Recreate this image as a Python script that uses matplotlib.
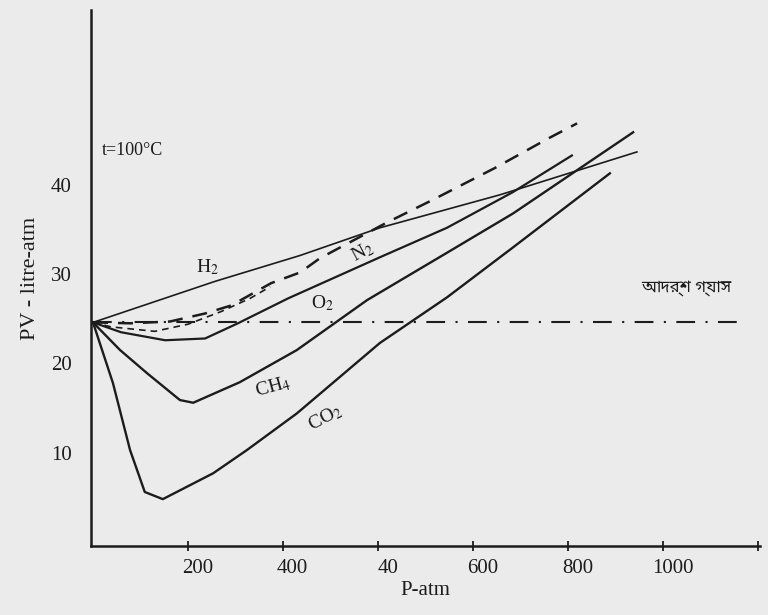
import matplotlib
matplotlib.use("Agg")
import matplotlib.pyplot as plt
from matplotlib.transforms import ScaledTranslation

# --- data (P in atm, PV in litre-atm) ---
ideal_p = [0, 1358]
ideal_pv = [24.6, 24.6]

h2_p = [0, 257, 436, 604, 857, 1145]
h2_pv = [24.6, 29.2, 32.1, 35.2, 38.9, 43.7]

n2_p = [0, 78, 162, 236, 291, 375, 436, 478, 619, 714, 846, 958, 1019]
n2_pv = [24.6, 24.5, 24.7, 25.6, 26.5, 29.0, 30.2, 31.8, 35.8, 38.3, 41.9, 45.2, 46.9]

n2b_p = [0, 38, 130, 200, 269, 331, 373]
n2b_pv = [24.6, 24.1, 23.6, 24.4, 25.8, 27.3, 28.6]

o2_p = [0, 59, 152, 236, 305, 411, 604, 745, 884, 1008]
o2_pv = [24.6, 23.5, 22.6, 22.8, 24.5, 27.3, 31.9, 35.2, 39.2, 43.3]

ch4_p = [0, 57, 114, 183, 211, 309, 429, 577, 745, 884, 1137]
ch4_pv = [24.6, 21.5, 18.9, 15.9, 15.6, 17.9, 21.5, 27.1, 32.4, 36.8, 45.9]

co2_p = [0, 42, 78, 109, 147, 253, 324, 429, 604, 745, 884, 1088]
co2_pv = [24.6, 17.8, 10.3, 5.6, 4.8, 7.7, 10.3, 14.4, 22.3, 27.4, 33.0, 41.3]

x_ticks = [200, 400, 600, 800, 1000, 1200, 1400]
x_labels = ["200", "400", "40", "600", "800", "1000", ""]
y_ticks = [10, 20, 30, 40]

ink = "#1c1c1c"
paper = "#ebebeb"
serif = ["Liberation Serif", "DejaVu Serif"]
bengali = ["Noto Sans Bengali", "Noto Serif Bengali", "Lohit Bengali",
           "FreeSerif", "Noto Sans", "DejaVu Sans"]

plt.rcParams["font.family"] = serif
plt.rcParams["mathtext.fontset"] = "stix"

fig = plt.figure(figsize=(7.68, 6.15), dpi=100, facecolor=paper)
ax = fig.add_axes([91 / 768, 1 - 546 / 615, (760 - 91) / 768, (546 - 10) / 615])
ax.set_facecolor(paper)

ax.plot(ideal_p, ideal_pv, color=ink, lw=1.5, dashes=(9, 5, 1, 5))
ax.plot(h2_p, h2_pv, color=ink, lw=1.2)
ax.plot(n2_p, n2_pv, color=ink, lw=1.8, dashes=(6, 4))
ax.plot(n2b_p, n2b_pv, color=ink, lw=1.2, dashes=(4, 3))
ax.plot(o2_p, o2_pv, color=ink, lw=1.6)
ax.plot(ch4_p, ch4_pv, color=ink, lw=1.7)
ax.plot(co2_p, co2_pv, color=ink, lw=1.7)

# curve labels
ax.text(19, 43.9, "t=100°C", fontsize=13, color=ink, va="center", ha="left")
ax.text(240, 30.8, "H$_2$", fontsize=14, color=ink, ha="center", va="center")
ax.text(568, 32.5, "N$_2$", fontsize=14, color=ink, ha="center", va="center", rotation=28)
ax.text(482, 26.8, "O$_2$", fontsize=14, color=ink, ha="center", va="center")
ax.text(379, 17.4, "CH$_4$", fontsize=14, color=ink, ha="center", va="center", rotation=15)
ax.text(488, 13.9, "CO$_2$", fontsize=14, color=ink, ha="center", va="center", rotation=28)
ax.text(1248, 28.4, "আদর্শ গ্যাস", fontsize=12, color=ink, ha="center", va="center",
        family=bengali)

ax.set_xlim(-4.2, 1404)
ax.set_ylim(-0.45, 59.6)

for s in ["top", "right"]:
    ax.spines[s].set_visible(False)
for s in ["left", "bottom"]:
    ax.spines[s].set_linewidth(1.8)
    ax.spines[s].set_color(ink)

ax.set_xticks(x_ticks)
ax.set_xticklabels(x_labels)
ax.set_yticks(y_ticks)
ax.tick_params(axis="x", direction="inout", length=7, width=1.3, color=ink,
               labelsize=15, labelcolor=ink, pad=6)
ax.tick_params(axis="y", length=0, labelsize=15, labelcolor=ink, pad=14)

# the printed tick numbers sit a little right of their marks
shift = ScaledTranslation(7 / 72, 0, fig.dpi_scale_trans)
for lab in ax.get_xticklabels():
    lab.set_transform(lab.get_transform() + shift)

ax.set_xlabel("P-atm", fontsize=15, color=ink, labelpad=2)
ax.set_ylabel("PV - litre-atm", fontsize=16, color=ink, labelpad=8)

fig.savefig("out.png", dpi=100, facecolor=paper)
